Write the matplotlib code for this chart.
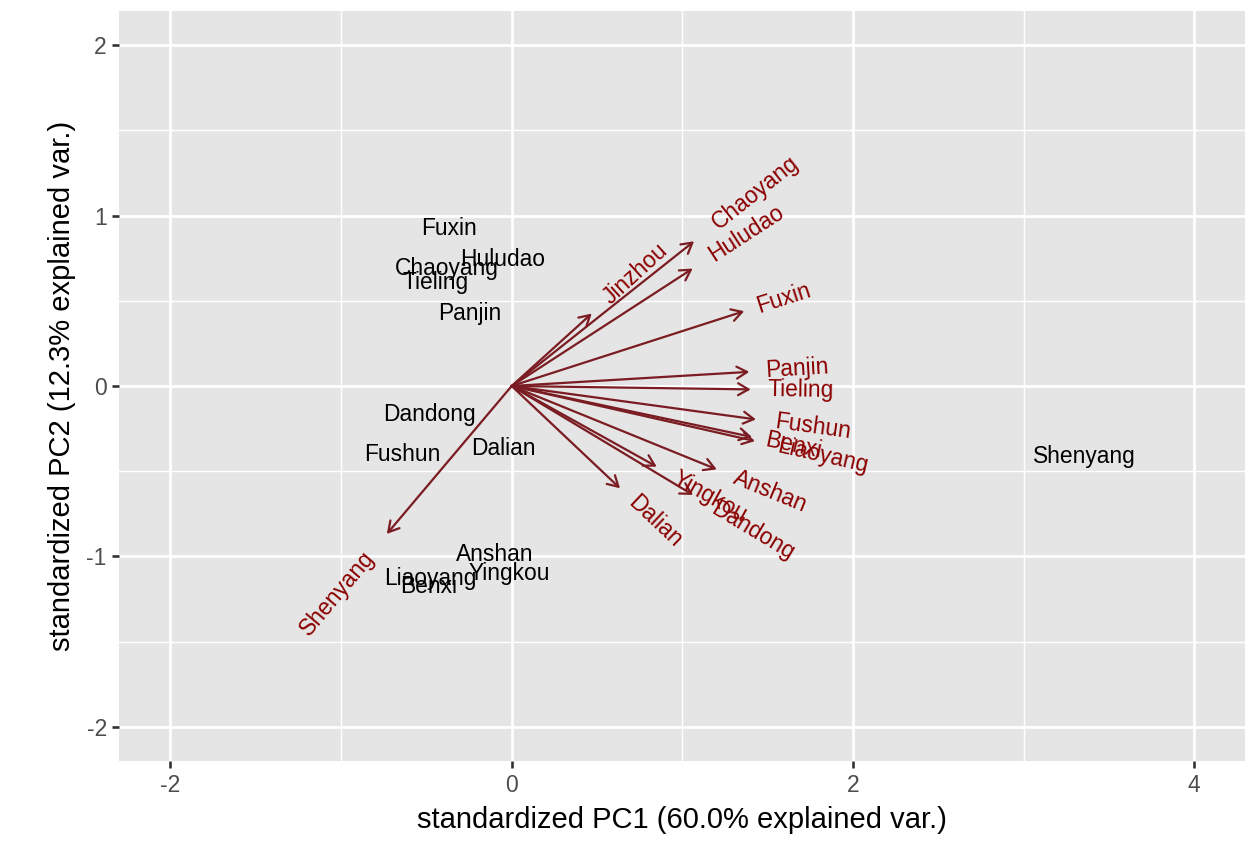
import numpy as np
import matplotlib
matplotlib.use("Agg")
import matplotlib.pyplot as plt
from matplotlib.font_manager import FontProperties

plt.rcParams['font.family'] = ['Liberation Sans', 'DejaVu Sans']
plt.rcParams['axes.unicode_minus'] = False

# observation scores (standardized PC1 / PC2)
obs_names = ['Shenyang', 'Dalian', 'Anshan', 'Fushun', 'Benxi', 'Dandong', 'Jinzhou',
             'Yingkou', 'Fuxin', 'Liaoyang', 'Panjin', 'Tieling', 'Chaoyang', 'Huludao']
obs_pc1 = [3.357, -0.049, -0.097, -0.640, -0.487, -0.484, 0.38,
           -0.012, -0.366, -0.477, -0.246, -0.447, -0.382, -0.051]
obs_pc2 = [-0.411, -0.364, -0.989, -0.403, -1.177, -0.170, 2.36,
           -1.101, 0.923, -1.131, 0.424, 0.610, 0.688, 0.743]

# variable loadings (arrows)
var_names = ['Shenyang', 'Dalian', 'Anshan', 'Fushun', 'Benxi', 'Dandong', 'Jinzhou',
             'Yingkou', 'Fuxin', 'Liaoyang', 'Panjin', 'Tieling', 'Chaoyang', 'Huludao']
var_pc1 = [-0.732, 0.635, 1.202, 1.432, 1.408, 1.063, 0.469,
           0.850, 1.363, 1.426, 1.393, 1.401, 1.069, 1.061]
var_pc2 = [-0.868, -0.600, -0.489, -0.196, -0.299, -0.639, 0.425,
           -0.473, 0.439, -0.323, 0.083, -0.020, 0.849, 0.689]

xlab = 'standardized PC1 (60.0% explained var.)'
ylab = 'standardized PC2 (12.3% explained var.)'
xlim = (-2, 4)
ylim = (-2, 2)

W, H = 1256, 846
fig = plt.figure(figsize=(W / 100, H / 100), dpi=100)
# panel box in pixels: left 119, right 1245, top 11, bottom 761
ax = fig.add_axes([119.3 / W, (H - 761) / H, 1126 / W, 750 / H])
ax.set_facecolor('#E5E5E5')
for s in ax.spines.values():
    s.set_visible(False)

xpad = (xlim[1] - xlim[0]) * 0.05
ypad = (ylim[1] - ylim[0]) * 0.05
ax.set_xlim(xlim[0] - xpad, xlim[1] + xpad)
ax.set_ylim(ylim[0] - ypad, ylim[1] + ypad)
ax.set_xticks([-2, 0, 2, 4])
ax.set_yticks([-2, -1, 0, 1, 2])
ax.set_xticks([-1, 1, 3], minor=True)
ax.set_yticks([-1.5, -0.5, 0.5, 1.5], minor=True)
ax.grid(which='major', color='white', lw=1.95)
ax.grid(which='minor', color='white', lw=1.0)
ax.set_axisbelow(True)
ax.tick_params(which='major', length=5, width=1.9, color='#333333',
               labelsize=16.5, labelcolor='#4D4D4D', pad=4)
ax.tick_params(which='minor', length=0)

txt_size = 16.4
arrow_col = '#7A1C22'
text_col = '#8B0000'

# arrows
for vx, vy in zip(var_pc1, var_pc2):
    ax.annotate('', xy=(vx, vy), xytext=(0, 0),
                arrowprops=dict(arrowstyle='->,head_length=0.75,head_width=0.43',
                                mutation_scale=10, lw=1.6, color=arrow_col,
                                shrinkA=0, shrinkB=0))

# observation labels (ones outside the limits are dropped, as ggplot does)
for name, px, py in zip(obs_names, obs_pc1, obs_pc2):
    if xlim[0] <= px <= xlim[1] and ylim[0] <= py <= ylim[1]:
        ax.text(px, py, name, ha='center', va='center', fontsize=txt_size, color='black')

# variable names, rotated along the arrow and pushed out by a quarter of their width
fp = FontProperties(family=['Liberation Sans', 'DejaVu Sans'], size=txt_size)
renderer = fig.canvas.get_renderer()
for name, vx, vy in zip(var_names, var_pc1, var_pc2):
    ang = np.degrees(np.arctan(vy / vx))
    w_px, _, _ = renderer.get_text_width_height_descent(name, fp, ismath=False)
    d = 0.25 * w_px * 72 / fig.dpi * np.sign(vx)
    off = (d * np.cos(np.radians(ang)), d * np.sin(np.radians(ang)))
    ax.annotate(name, (vx, vy), xytext=off, textcoords='offset points',
                rotation=ang, rotation_mode='anchor',
                ha='left' if vx > 0 else 'right', va='center',
                color=text_col, fontproperties=fp)

fig.text(682.3 / W, 1 - 820 / H, xlab, ha='center', va='center', fontsize=21)
fig.text(62 / W, 1 - 386 / H, ylab, ha='center', va='center', rotation=90, fontsize=21)

fig.savefig('out.png', dpi=100)
